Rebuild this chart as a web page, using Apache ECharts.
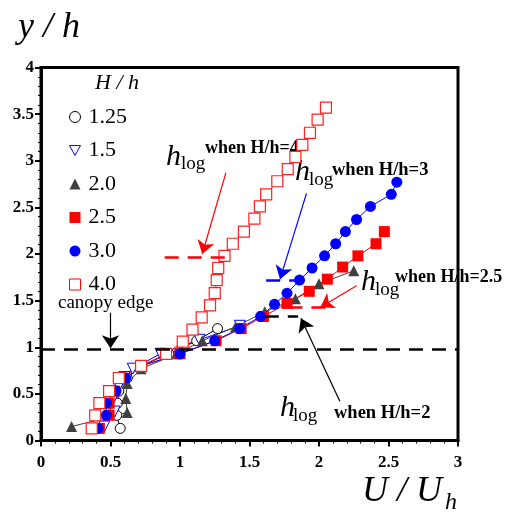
<!DOCTYPE html>
<html>
<head>
<meta charset="utf-8">
<script src="https://cdn.jsdelivr.net/npm/echarts/dist/echarts.min.js"></script>
<style>
  body { margin: 0; background: #fff; }
  #main { width: 512px; height: 515px; }
</style>
</head>
<body>
<div id="main"></div>
<script>
  // H/h = 1.25
  var y125 = [0.13, 0.27, 0.40, 0.53, 0.67, 0.80, 0.93, 1.07, 1.20];
  var u125 = [0.57, 0.545, 0.55, 0.56, 0.62, 0.72, 0.92, 1.12, 1.27];
  // H/h = 1.5
  var y15 = [0.15, 0.31, 0.45, 0.58, 0.68, 0.77, 0.93, 1.08, 1.23];
  var u15 = [0.455, 0.53, 0.52, 0.56, 0.60, 0.66, 0.86, 1.14, 1.43];
  // H/h = 2.0
  var y20 = [0.15, 0.30, 0.45, 0.61, 0.77, 0.93, 1.07, 1.22, 1.38, 1.52, 1.68, 1.82];
  var u20 = [0.22, 0.62, 0.61, 0.62, 0.72, 0.98, 1.16, 1.40, 1.61, 1.83, 2.00, 2.25];
  // H/h = 2.5
  var y25 = [0.13, 0.27, 0.40, 0.53, 0.67, 0.80, 0.93, 1.07, 1.20, 1.33, 1.47, 1.60, 1.73, 1.86, 1.98, 2.11, 2.24];
  var u25 = [0.42, 0.49, 0.49, 0.53, 0.58, 0.72, 1.00, 1.26, 1.44, 1.60, 1.77, 1.93, 2.06, 2.17, 2.28, 2.41, 2.47];
  // H/h = 3.0
  var y30 = [0.13, 0.27, 0.40, 0.53, 0.67, 0.80, 0.93, 1.07, 1.20, 1.33, 1.46, 1.58, 1.72, 1.85, 1.98, 2.11, 2.24, 2.37, 2.51, 2.64, 2.77];
  var u30 = [0.41, 0.47, 0.47, 0.54, 0.61, 0.72, 1.00, 1.25, 1.43, 1.58, 1.68, 1.77, 1.86, 1.95, 2.04, 2.12, 2.19, 2.27, 2.37, 2.52, 2.56];
  // H/h = 4.0
  var y40 = [0.13, 0.27, 0.40, 0.53, 0.67, 0.80, 0.93, 1.06, 1.19, 1.32, 1.45, 1.58, 1.72, 1.85, 1.98, 2.11, 2.24, 2.38, 2.51, 2.64, 2.78, 2.91, 3.04, 3.17, 3.30, 3.44, 3.57];
  var u40 = [0.365, 0.39, 0.42, 0.49, 0.56, 0.72, 0.90, 1.02, 1.09, 1.156, 1.216, 1.25, 1.264, 1.275, 1.32, 1.38, 1.46, 1.535, 1.575, 1.62, 1.70, 1.775, 1.83, 1.88, 1.935, 1.99, 2.05];

  var legendNames = ['1.25', '1.5', '2.0', '2.5', '3.0', '4.0'];

  // canopy edge and h_log levels [x1, x2, y]
  var canopyEdge = [0, 3, 0.98];
  var hlog4 = [0.89, 1.34, 1.97];
  var hlog3 = [1.62, 1.87, 1.72];
  var hlog25 = [1.78, 2.10, 1.43];
  var hlog2 = [1.61, 1.85, 1.33];

  // arrows [x1, y1, x2, y2]
  var arrowCanopy = [0.50, 1.37, 0.50, 0.99];
  var arrow4 = [1.33, 2.87, 1.16, 2.00];
  var arrow3 = [1.91, 2.65, 1.72, 1.73];
  var arrow25 = [2.27, 1.66, 2.01, 1.43];
  var arrow2 = [2.15, 0.42, 1.87, 1.31];

  function zip(u, y) {
    return u.map(function (v, i) { return [v, y[i]]; });
  }
  function seg(a, color, dashed) {
    var l = a.length === 3 ? [[a[0], a[2]], [a[1], a[2]]] : [[a[0], a[1]], [a[2], a[3]]];
    return [{ coord: l[0], lineStyle: { color: color, width: dashed ? 2.5 : 1.2, type: dashed ? [14, 9] : 'solid' } },
            { coord: l[1] }];
  }

  var serif = '"Liberation Serif", "Times New Roman", serif';
  var chart = echarts.init(document.getElementById('main'));

  chart.setOption({
    animation: false,
    grid: {
      left: 41, right: 54, top: 67.5, bottom: 74.5,
      show: true, borderColor: '#000', borderWidth: 3
    },
    xAxis: {
      type: 'value', min: 0, max: 3, interval: 0.5,
      axisLine: { onZero: false, lineStyle: { color: '#000', width: 3 } },
      axisTick: { length: 6, lineStyle: { width: 2, color: '#000' } },
      minorTick: { show: true, splitNumber: 5, length: 3, lineStyle: { color: '#000', width: 1 } },
      splitLine: { show: false },
      axisLabel: { color: '#000', fontFamily: serif, fontWeight: 'bold', fontSize: 17, margin: 14 }
    },
    yAxis: {
      type: 'value', min: 0, max: 4, interval: 0.5,
      axisLine: { onZero: false, lineStyle: { color: '#000', width: 3 } },
      axisTick: { length: 6, lineStyle: { width: 2, color: '#000' } },
      minorTick: { show: true, splitNumber: 5, length: 3, lineStyle: { color: '#000', width: 1 } },
      splitLine: { show: false },
      axisLabel: { color: '#000', fontFamily: serif, fontWeight: 'bold', fontSize: 17, margin: 7 }
    },
    legend: {
      orient: 'vertical', left: 64, top: 101,
      itemWidth: 11, itemHeight: 11, itemGap: 11.5,
      textStyle: { fontFamily: serif, fontSize: 22, color: '#000', lineHeight: 22, padding: [0, 0, 0, 3] },
      data: [
        { name: '1.25', icon: 'circle', itemStyle: { color: '#fff', borderColor: '#000', borderWidth: 1 } },
        { name: '1.5', icon: 'path://M0,0 L10,0 L5,9 Z', itemStyle: { color: '#fff', borderColor: '#0000ff', borderWidth: 1 } },
        { name: '2.0', icon: 'triangle', itemStyle: { color: '#404040' } },
        { name: '2.5', icon: 'rect', itemStyle: { color: '#ff0000' } },
        { name: '3.0', icon: 'circle', itemStyle: { color: '#0000ff' } },
        { name: '4.0', icon: 'rect', itemStyle: { color: '#fff', borderColor: '#ff0000', borderWidth: 1 } }
      ]
    },
    series: [
      {
        name: '1.25', type: 'line', data: zip(u125, y125),
        symbol: 'circle', symbolSize: 10,
        itemStyle: { color: '#fff', borderColor: '#000', borderWidth: 1 },
        lineStyle: { color: '#000', width: 1 }
      },
      {
        name: '1.5', type: 'line', data: zip(u15, y15),
        symbol: 'path://M0,0 L10,0 L5,9 Z', symbolSize: 11,
        itemStyle: { color: '#fff', borderColor: '#0000ff', borderWidth: 1 },
        lineStyle: { color: '#0000ff', width: 1 }
      },
      {
        name: '2.0', type: 'line', data: zip(u20, y20),
        symbol: 'triangle', symbolSize: 11,
        itemStyle: { color: '#404040' },
        lineStyle: { color: '#404040', width: 1 }
      },
      {
        name: '2.5', type: 'line', data: zip(u25, y25),
        symbol: 'rect', symbolSize: 11,
        itemStyle: { color: '#ff0000' },
        lineStyle: { color: '#ff0000', width: 1 }
      },
      {
        name: '3.0', type: 'line', data: zip(u30, y30),
        symbol: 'circle', symbolSize: 11,
        itemStyle: { color: '#0000ff' },
        lineStyle: { color: '#0000ff', width: 1 }
      },
      {
        name: '4.0', type: 'line', data: zip(u40, y40),
        symbol: 'rect', symbolSize: 11,
        itemStyle: { color: '#fff', borderColor: '#ff2020', borderWidth: 1.2 },
        lineStyle: { color: '#ff2020', width: 1 }
      },
      {
        name: 'dashes', type: 'line', data: [],
        markLine: {
          silent: true, symbol: ['none', 'none'], label: { show: false },
          data: [
            seg(canopyEdge, '#000', true),
            seg(hlog4, '#ff0000', true),
            seg(hlog3, '#0000ff', true),
            seg(hlog25, '#ff0000', true),
            seg(hlog2, '#000', true)
          ]
        }
      },
      {
        name: 'arrows', type: 'line', data: [],
        markLine: {
          silent: true, symbol: ['none', 'arrow'], symbolSize: 13, label: { show: false },
          data: [
            seg(arrowCanopy, '#000', false),
            seg(arrow4, '#ff0000', false),
            seg(arrow3, '#0000ff', false),
            seg(arrow25, '#ff0000', false),
            seg(arrow2, '#000', false)
          ]
        }
      }
    ],
    graphic: [
      { type: 'text', style: { text: 'y / h', x: 18, y: 28, font: 'italic 36px ' + serif, fill: '#000', verticalAlign: 'middle' } },
      { type: 'text', style: { text: 'U / U', x: 362, y: 492, font: 'italic 36px ' + serif, fill: '#000', verticalAlign: 'middle' } },
      { type: 'text', style: { text: 'h', x: 445, y: 503, font: 'italic 24px ' + serif, fill: '#000', verticalAlign: 'middle' } },
      { type: 'text', style: { text: 'H / h', x: 95, y: 83, font: 'italic 22px ' + serif, fill: '#000', verticalAlign: 'middle' } },
      { type: 'text', style: { text: 'canopy edge', x: 58, y: 303, font: '19px ' + serif, fill: '#000', verticalAlign: 'middle' } },

      { type: 'text', style: { text: 'h', x: 166, y: 157, font: 'italic 30px ' + serif, fill: '#000', verticalAlign: 'middle' } },
      { type: 'text', style: { text: 'log', x: 181, y: 164, font: '19px ' + serif, fill: '#000', verticalAlign: 'middle' } },
      { type: 'text', style: { text: 'when H/h=4', x: 205, y: 148, font: 'bold 18px ' + serif, fill: '#000', verticalAlign: 'middle' } },

      { type: 'text', style: { text: 'h', x: 295, y: 172, font: 'italic 30px ' + serif, fill: '#000', verticalAlign: 'middle' } },
      { type: 'text', style: { text: 'log', x: 309, y: 180, font: '19px ' + serif, fill: '#000', verticalAlign: 'middle' } },
      { type: 'text', style: { text: 'when H/h=3', x: 332, y: 170, font: 'bold 18.5px ' + serif, fill: '#000', verticalAlign: 'middle' } },

      { type: 'text', style: { text: 'h', x: 361, y: 282, font: 'italic 30px ' + serif, fill: '#000', verticalAlign: 'middle' } },
      { type: 'text', style: { text: 'log', x: 375, y: 290, font: '19px ' + serif, fill: '#000', verticalAlign: 'middle' } },
      { type: 'text', style: { text: 'when H/h=2.5', x: 395, y: 277, font: 'bold 18px ' + serif, fill: '#000', verticalAlign: 'middle' } },

      { type: 'text', style: { text: 'h', x: 280, y: 408, font: 'italic 30px ' + serif, fill: '#000', verticalAlign: 'middle' } },
      { type: 'text', style: { text: 'log', x: 293, y: 416, font: '19px ' + serif, fill: '#000', verticalAlign: 'middle' } },
      { type: 'text', style: { text: 'when H/h=2', x: 334, y: 413, font: 'bold 18.5px ' + serif, fill: '#000', verticalAlign: 'middle' } }
    ]
  });
</script>
</body>
</html>
